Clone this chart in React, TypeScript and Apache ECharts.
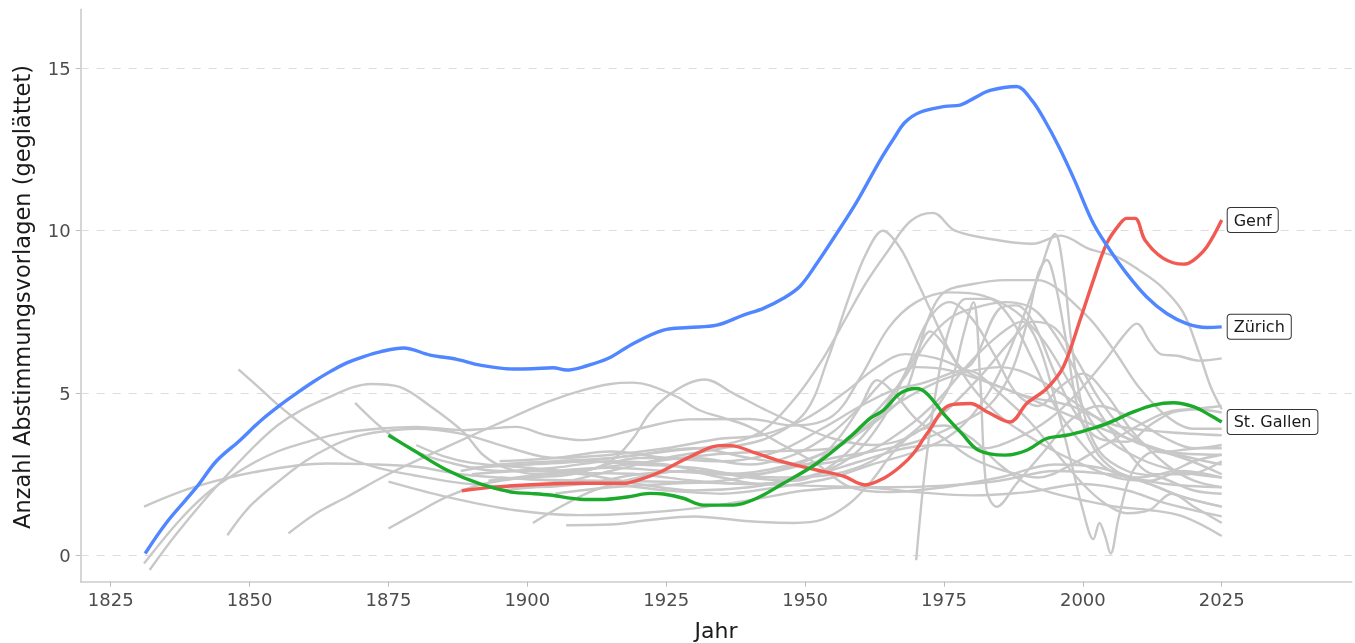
import React, { useEffect, useRef } from 'react';
import * as echarts from 'echarts';

type P = [number, number];

const xTicks = [1825, 1850, 1875, 1900, 1925, 1950, 1975, 2000, 2025];
const yTicks = [0, 5, 10, 15];

const zuerich: P[] = [
  [1831.2, 0.06], [1835, 1.0], [1840.5, 2.11], [1844, 2.9], [1848.3, 3.55], [1852, 4.15], [1855.5, 4.63],
  [1858.5, 5.0], [1861.5, 5.35], [1864.5, 5.66], [1867.5, 5.93], [1870.5, 6.12], [1873.5, 6.27], [1877.7, 6.39],
  [1882.5, 6.17], [1887.3, 6.04], [1891.5, 5.86], [1897.4, 5.74], [1901, 5.75], [1904.6, 5.78], [1907.1, 5.71],
  [1910.1, 5.81], [1914.6, 6.07], [1919.1, 6.53], [1924.5, 6.94], [1929, 7.02], [1934.1, 7.09], [1938.9, 7.4],
  [1942.5, 7.61], [1946.1, 7.92], [1949.1, 8.29], [1952.1, 8.99], [1955.7, 9.92], [1959.3, 10.89], [1963.5, 12.17],
  [1966, 12.85], [1968, 13.34], [1970.7, 13.65], [1975.2, 13.83], [1977.9, 13.87], [1980.6, 14.1], [1983.3, 14.32],
  [1988.1, 14.44], [1990.8, 14.02], [1993.1, 13.41], [1995.8, 12.55], [1998.5, 11.56], [2001.9, 10.22],
  [2004.9, 9.4], [2007.9, 8.68], [2011.5, 7.96], [2015.1, 7.45], [2018.7, 7.14], [2022.3, 7.02], [2025, 7.04],
];

const genf: P[] = [
  [1888.2, 1.99], [1894.5, 2.11], [1903.5, 2.2], [1909.5, 2.22], [1917.3, 2.22], [1920.5, 2.35], [1923.9, 2.57],
  [1929.3, 3.04], [1934.7, 3.38], [1936.5, 3.38], [1941.3, 3.14], [1946.1, 2.88], [1952.1, 2.63], [1956.9, 2.44],
  [1960.8, 2.17], [1964.1, 2.37], [1967.1, 2.73], [1969.5, 3.14], [1972, 3.76], [1976.1, 4.63], [1979.7, 4.68],
  [1983, 4.4], [1986.9, 4.11], [1989.9, 4.68], [1993.5, 5.14], [1996.5, 5.81], [1999.5, 7.25], [2001.9, 8.48],
  [2004.3, 9.61], [2006.7, 10.22], [2007.9, 10.38], [2009.4, 10.38], [2011.2, 9.71], [2014.5, 9.15],
  [2018.1, 8.97], [2019.9, 9.09], [2022.3, 9.5], [2025, 10.33],
];

const stGallen: P[] = [
  [1875, 3.7], [1879.5, 3.24], [1885.5, 2.63], [1891.5, 2.2], [1897.5, 1.94], [1900.5, 1.91], [1904.1, 1.86],
  [1909.5, 1.73], [1913.1, 1.72], [1918, 1.8], [1922.1, 1.91], [1924.5, 1.89], [1928.1, 1.76], [1931.7, 1.55],
  [1937.1, 1.55], [1941.3, 1.76], [1946.1, 2.22], [1952.1, 2.83], [1958.1, 3.65], [1961.7, 4.22], [1964.1, 4.47],
  [1967.1, 4.99], [1970, 5.14], [1971.9, 4.99], [1974.9, 4.37], [1978.2, 3.76], [1981.2, 3.24], [1986, 3.09],
  [1989.9, 3.24], [1993.5, 3.6], [1997.1, 3.7], [2000.7, 3.86], [2004.3, 4.06], [2009.1, 4.42], [2012.7, 4.63],
  [2016.3, 4.7], [2019.9, 4.58], [2022.9, 4.32], [2025, 4.11],
];

const g01: P[] = [[1831, 1.5], [1840, 2.1], [1852, 2.6], [1864, 2.83], [1871, 2.81], [1880, 2.73], [1888, 2.5], [1900, 2.35], [1915, 2.3], [1930, 2.25], [1950, 2.15], [1965, 2.1], [1975, 2.15], [1985, 2.3], [1995, 2.6], [2005, 2.5], [2015, 2.2], [2025, 2.1]];
const g02: P[] = [[1832, -0.45], [1837, 0.7], [1845, 2.3], [1855, 4.0], [1864, 4.85], [1872, 5.28], [1877, 5.19], [1882.5, 4.6], [1888.5, 3.8], [1892, 3.1], [1896, 2.7], [1902, 2.5], [1910, 2.6], [1920, 3.0], [1930, 3.0], [1940, 2.8], [1948, 3.1], [1955, 3.8], [1960, 4.6], [1965, 5.5], [1970, 5.8], [1976, 5.7], [1985, 5.2], [1995, 4.5], [2005, 3.8], [2015, 3.2], [2025, 2.8]];
const g03: P[] = [[1831, -0.25], [1837.5, 1.1], [1843, 2.0], [1849.5, 2.73], [1855, 3.2], [1861.5, 3.55], [1867, 3.78], [1873.5, 3.91], [1880, 3.96], [1888.5, 3.86], [1893, 3.9], [1898, 3.96], [1903.5, 3.7], [1910, 3.55], [1920, 3.9], [1929, 4.19], [1940, 4.2], [1948, 4.0], [1955, 4.3], [1960, 5.5], [1965, 7.0], [1970, 7.8], [1976, 8.1], [1982, 8.0], [1988, 7.5], [1993, 6.6], [1998, 5.2], [2003, 3.8], [2010, 3.0], [2017, 2.6], [2025, 2.4]];
const g04: P[] = [[1846, 0.62], [1850, 1.5], [1855.5, 2.32], [1860, 2.9], [1864.5, 3.34], [1869, 3.65], [1873.5, 3.81], [1880, 3.9], [1888, 3.75], [1897, 3.3], [1905, 3.0], [1915, 3.1], [1925, 3.3], [1935, 3.6], [1942, 3.7], [1950, 4.2], [1957, 5.0], [1963, 5.8], [1968, 6.2], [1975, 6.0], [1982, 5.4], [1990, 4.9], [1998, 4.6], [2006, 4.0], [2015, 3.8], [2025, 3.7]];
const g05: P[] = [[1857, 0.68], [1862, 1.3], [1867.5, 1.8], [1875.3, 2.53], [1885.5, 3.34], [1897.5, 4.27], [1904, 4.75], [1910, 5.09], [1915, 5.28], [1919, 5.32], [1922, 5.24], [1927, 4.88], [1931, 4.47], [1936, 4.2], [1940, 3.96], [1946, 3.4], [1952, 2.83], [1958, 2.11], [1965, 1.95], [1975, 2.1], [1985, 2.4], [1995, 2.8], [2003, 2.7], [2012, 2.2], [2018, 1.8], [2025, 1.5]];
const g06: P[] = [[1848, 5.73], [1851.5, 5.2], [1855.5, 4.58], [1861.5, 3.76], [1867.5, 3.04], [1873.5, 2.68], [1879.5, 2.47], [1888.5, 2.22], [1900, 2.1], [1910, 2.2], [1920, 2.5], [1930, 2.6], [1940, 2.5], [1950, 2.9], [1958, 3.6], [1965, 4.5], [1972, 5.2], [1978, 5.6], [1985, 5.8], [1990, 5.6], [1996, 5.0], [2002, 4.3], [2008, 3.6], [2015, 3.2], [2025, 3.1]];
const g07: P[] = [[1869, 4.7], [1872, 4.2], [1875, 3.76], [1879.5, 3.24], [1885.5, 2.88], [1895, 2.6], [1905, 2.7], [1915, 2.9], [1925, 2.8], [1935, 2.5], [1945, 2.7], [1955, 3.3], [1962, 4.3], [1968, 5.5], [1972, 6.6], [1976, 7.3], [1980, 7.6], [1986, 7.8], [1991, 7.6], [1995, 6.8], [1999, 5.6], [2003, 4.4], [2008, 3.2], [2013, 2.5], [2019, 2.5], [2025, 2.9]];
const g08: P[] = [[1875, 2.27], [1885.5, 1.8], [1897.5, 1.4], [1909.5, 1.24], [1920, 1.3], [1930, 1.45], [1940, 1.7], [1950, 2.0], [1960, 2.1], [1970, 1.95], [1980, 1.85], [1990, 1.95], [2000, 2.2], [2008, 2.0], [2015, 1.6], [2025, 1.2]];
const g09: P[] = [[1875, 0.83], [1880, 1.3], [1885.5, 1.8], [1892, 2.2], [1900, 2.4], [1908, 2.5], [1915, 2.9], [1919, 3.6], [1922, 4.38], [1925, 4.88], [1929, 5.3], [1932, 5.42], [1937, 5.0], [1943, 4.47], [1949, 4.0], [1955, 3.6], [1962, 3.4], [1968, 3.6], [1975, 4.4], [1982, 5.6], [1987, 6.6], [1991, 7.2], [1995, 7.0], [1999, 6.0], [2003, 4.8], [2008, 3.8], [2015, 3.2], [2021, 3.3], [2025, 3.3]];
const g10: P[] = [[1880, 3.4], [1885, 3.05], [1890, 2.85], [1900, 2.7], [1910, 2.55], [1920, 2.5], [1930, 2.3], [1940, 2.2], [1950, 2.4], [1958, 3.0], [1964, 4.2], [1968, 5.6], [1972, 7.2], [1976, 7.8], [1980, 7.3], [1984, 6.2], [1988, 5.0], [1992, 4.6], [1996, 5.2], [2000, 5.6], [2004, 5.0], [2009, 3.8], [2015, 2.8], [2020, 2.3], [2025, 2.1]];
const g11: P[] = [[1901, 1.0], [1906, 1.5], [1912, 2.0], [1920, 2.4], [1928, 2.6], [1935, 2.4], [1942, 2.2], [1950, 2.6], [1956, 3.6], [1960, 4.6], [1963, 5.4], [1966, 5.0], [1970, 4.2], [1975, 3.6], [1980, 3.0], [1986, 2.6], [1992, 2.4], [1998, 2.8], [2004, 3.4], [2010, 4.0], [2015, 4.4], [2020, 4.5], [2025, 4.4]];
const g12: P[] = [[1907, 0.93], [1915, 0.95], [1922, 1.09], [1930, 1.2], [1940, 1.05], [1948, 1.0], [1953, 1.1], [1958, 1.6], [1962, 2.3], [1966, 3.2], [1970, 3.8], [1975, 4.0], [1980, 3.6], [1985, 2.8], [1990, 2.2], [1995, 1.9], [2000, 1.7], [2006, 1.5], [2012, 1.4], [2018, 1.2], [2025, 0.6]];
const g13: P[] = [[1888, 2.6], [1895, 2.8], [1905, 2.9], [1915, 3.0], [1925, 3.2], [1935, 3.4], [1942, 3.8], [1948, 4.8], [1953, 6.0], [1957, 7.2], [1961, 8.4], [1965, 9.4], [1969, 10.3], [1973, 10.55], [1977, 10.0], [1985, 9.7], [1991, 9.6], [1996, 9.85], [2001, 9.45], [2006, 9.2], [2010, 8.8], [2014, 8.3], [2018, 7.5], [2021, 6.2], [2023, 5.2], [2025, 4.5]];
const g14: P[] = [[1895, 2.0], [1905, 2.2], [1915, 2.6], [1925, 3.0], [1935, 3.3], [1943, 3.6], [1950, 4.4], [1954, 6.0], [1958, 8.0], [1961, 9.3], [1964, 10.0], [1967, 9.5], [1970, 8.5], [1973, 7.4], [1976, 6.3], [1980, 5.2], [1985, 4.3], [1990, 3.7], [1995, 3.2], [2000, 2.8], [2006, 2.4], [2012, 2.3], [2018, 2.6], [2025, 2.4]];
const g15: P[] = [[1970, -0.15], [1971.5, 2.5], [1973.5, 5.0], [1976, 7.0], [1979, 7.9], [1983, 7.9], [1987, 7.3], [1991, 6.0], [1995, 4.6], [2000, 3.4], [2005, 2.6], [2010, 2.4], [2016, 2.6], [2020, 2.9], [2025, 3.1]];
const g16: P[] = [[1890, 2.5], [1900, 2.6], [1910, 2.5], [1920, 2.2], [1930, 2.0], [1940, 2.1], [1950, 2.4], [1960, 2.9], [1968, 3.3], [1975, 3.4], [1982, 3.3], [1988, 3.6], [1994, 4.2], [1999, 5.0], [2004, 6.0], [2007.5, 6.8], [2009.7, 7.14], [2012, 6.6], [2014, 6.2], [2017, 6.15], [2021, 6.0], [2025, 6.07]];
const g17: P[] = [[1895, 2.4], [1905, 2.3], [1915, 2.2], [1925, 2.0], [1935, 1.9], [1945, 2.1], [1955, 2.4], [1962, 2.8], [1970, 3.2], [1977, 3.8], [1983, 5.0], [1988, 6.8], [1992, 8.6], [1995, 9.9], [1996.5, 8.8], [1998, 6.5], [2000, 4.5], [2003, 3.2], [2008, 2.6], [2014, 2.4], [2020, 2.0], [2025, 1.9]];
const g18: P[] = [[1900, 2.8], [1910, 2.9], [1920, 3.1], [1930, 3.3], [1940, 3.0], [1950, 2.8], [1960, 3.1], [1968, 3.9], [1974, 4.8], [1980, 6.0], [1985, 6.8], [1989, 7.2], [1992, 6.5], [1995, 4.8], [1998, 2.8], [2000, 1.4], [2001.9, 0.5], [2003, 1.0], [2004, 0.6], [2005, 0.06], [2006.5, 1.2], [2009, 2.6], [2013, 3.2], [2018, 3.0], [2025, 2.5]];
const g19: P[] = [[1905, 1.9], [1915, 2.1], [1925, 2.2], [1935, 2.3], [1945, 2.6], [1955, 3.0], [1962, 3.2], [1970, 3.5], [1977, 4.0], [1983, 4.6], [1987, 5.6], [1990, 7.2], [1992, 8.7], [1993.5, 9.1], [1995, 8.4], [1997, 6.6], [1999, 4.6], [2002, 3.3], [2006, 2.6], [2012, 2.2], [2018, 1.8], [2025, 1.5]];
const g20: P[] = [[1905, 2.6], [1915, 2.7], [1925, 2.6], [1935, 2.5], [1945, 2.4], [1955, 2.5], [1962, 2.9], [1968, 3.6], [1972, 4.2], [1976, 5.2], [1978.5, 6.8], [1980.3, 7.8], [1981.5, 5.5], [1982.7, 2.0], [1984.5, 1.5], [1988, 2.2], [1993, 3.2], [1998, 4.2], [2003, 4.6], [2009, 4.2], [2015, 3.6], [2020, 3.3], [2025, 3.4]];
const g21: P[] = [[1895, 2.9], [1905, 3.0], [1915, 3.2], [1925, 3.0], [1935, 2.9], [1945, 3.2], [1953, 3.9], [1960, 4.6], [1966, 5.1], [1971, 5.3], [1976, 5.6], [1980, 5.9], [1985, 7.6], [1988, 7.7], [1991, 7.2], [1995, 5.6], [1999, 4.3], [2003, 3.6], [2008, 3.5], [2012, 4.0], [2016, 4.4], [2020, 4.5], [2025, 4.6]];
const g22: P[] = [[1890, 2.7], [1900, 2.8], [1910, 2.9], [1920, 2.8], [1930, 2.7], [1940, 2.4], [1948, 2.3], [1955, 2.8], [1962, 4.0], [1967, 5.3], [1970, 6.2], [1972.5, 6.9], [1975, 6.5], [1978, 5.8], [1981, 5.6], [1985, 5.0], [1990, 4.2], [1995, 3.2], [2000, 2.2], [2004, 1.6], [2008, 1.3], [2012, 1.4], [2016, 1.9], [2020, 1.5], [2025, 1.0]];
const g23: P[] = [[1893, 2.3], [1903, 2.5], [1913, 2.7], [1923, 2.9], [1933, 3.1], [1943, 3.2], [1955, 3.3], [1960, 3.8], [1964, 4.3], [1968, 5.0], [1972, 7.2], [1975, 8.1], [1980, 8.35], [1986, 8.48], [1992, 8.48], [1995, 8.27], [1999, 7.66], [2002, 7.14], [2006, 6.22], [2010, 5.2], [2015, 4.3], [2020, 3.9], [2025, 3.9]];

const grayLines: P[][] = [g01, g02, g03, g04, g05, g06, g07, g08, g09, g10, g11, g12, g13, g14, g15, g16, g17, g18, g19, g20, g21, g22, g23];

const FONT = '"DejaVu Sans", Inter, sans-serif';
const GRAY = '#C8C8C8';
const BLUE = '#5086FF';
const RED = '#F05A52';
const GREEN = '#1CAA2A';

function endLabel(text: string) {
  return {
    show: true,
    formatter: text,
    distance: 6,
    color: '#1a1a1a',
    fontFamily: FONT,
    fontSize: 16,
    lineHeight: 16,
    backgroundColor: '#ffffff',
    borderColor: '#333333',
    borderWidth: 1,
    borderRadius: 3,
    padding: [4, 6, 4, 6],
  };
}

export default function App() {
  const ref = useRef<HTMLDivElement>(null);
  useEffect(() => {
    if (!ref.current) return;
    const chart = echarts.init(ref.current, undefined, { renderer: 'svg' });
    const series: any[] = [];
    grayLines.forEach((d, i) => {
      const s: any = {
        type: 'line',
        data: d,
        smooth: 0.35,
        showSymbol: false,
        silent: true,
        lineStyle: { color: GRAY, width: 2.4 },
        z: 2,
      };
      if (i === 0) {
        s.markLine = {
          silent: true,
          symbol: ['none', 'none'],
          label: { show: false },
          lineStyle: { color: '#DCDCDC', width: 1, type: [8, 8] },
          data: yTicks.map((v) => ({ yAxis: v })),
          z: 1,
        };
      }
      series.push(s);
    });
    const colored: [P[], string, string][] = [
      [genf, RED, 'Genf'],
      [stGallen, GREEN, 'St. Gallen'],
      [zuerich, BLUE, 'Zürich'],
    ];
    colored.forEach(([d, c, name]) => {
      series.push({
        type: 'line',
        name,
        data: d,
        smooth: 0.35,
        showSymbol: false,
        silent: true,
        lineStyle: { color: c, width: 3.4 },
        endLabel: endLabel(name),
        z: 3,
      });
    });

    chart.setOption({
      animation: false,
      grid: { left: 80.7, right: 3.3, top: 9.3, bottom: 61.3, containLabel: false },
      xAxis: {
        type: 'value',
        min: 1819.6,
        max: 2048.4,
        axisLine: { show: true, onZero: false, lineStyle: { color: '#CCCCCC', width: 1.6 } },
        axisTick: { show: true, customValues: xTicks, length: 5, lineStyle: { color: '#BDBDBD', width: 1 } },
        axisLabel: {
          customValues: xTicks,
          formatter: (v: number) => String(v),
          margin: 9,
          color: '#4D4D4D',
          fontSize: 18,
          fontFamily: FONT,
        },
        splitLine: { show: false },
      },
      yAxis: {
        type: 'value',
        min: -0.81,
        max: 16.82,
        axisLine: { show: true, onZero: false, lineStyle: { color: '#CCCCCC', width: 1.6 } },
        axisTick: { show: true, customValues: yTicks, length: 5, lineStyle: { color: '#BDBDBD', width: 1 } },
        axisLabel: {
          customValues: yTicks,
          formatter: (v: number) => String(v),
          margin: 10,
          color: '#4D4D4D',
          fontSize: 18,
          fontFamily: FONT,
        },
        splitLine: { show: false },
      },
      graphic: [
        {
          type: 'text',
          x: 22,
          y: 297,
          rotation: Math.PI / 2,
          style: {
            text: 'Anzahl Abstimmungsvorlagen (geglättet)',
            fill: '#1a1a1a',
            font: `22.5px ${FONT}`,
            textAlign: 'center',
            textVerticalAlign: 'middle',
          },
        },
        {
          type: 'text',
          x: 716,
          y: 630,
          style: {
            text: 'Jahr',
            fill: '#1a1a1a',
            font: `22px ${FONT}`,
            textAlign: 'center',
            textVerticalAlign: 'middle',
          },
        },
      ],
      series,
    });
    return () => chart.dispose();
  }, []);
  return <div ref={ref} style={{ position: 'fixed', left: 0, top: 0, width: 1355, height: 643 }} />;
}
